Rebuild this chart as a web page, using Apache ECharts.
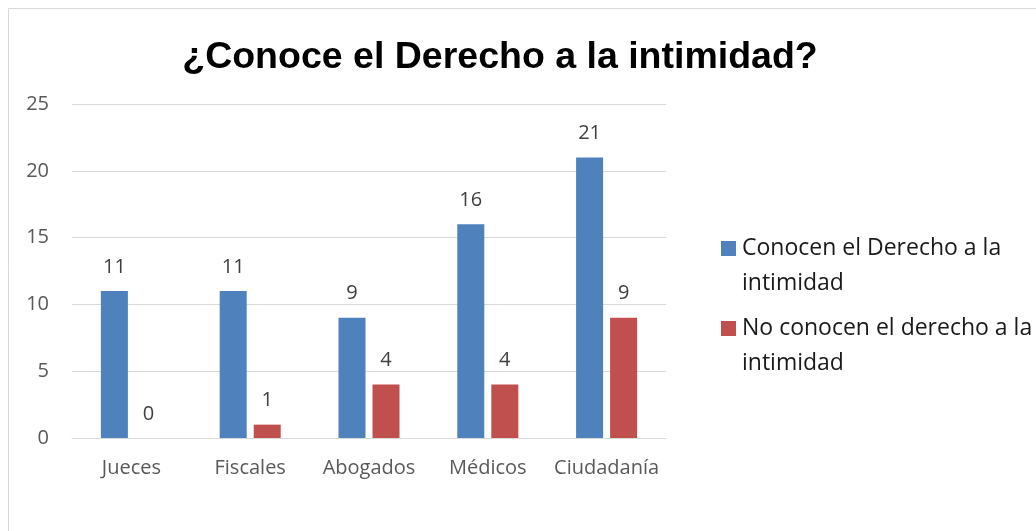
<!DOCTYPE html>
<html>
<head>
<meta charset="utf-8">
<script src="https://cdn.jsdelivr.net/npm/echarts@6/dist/echarts.min.js"></script>
<style>
html,body{margin:0;padding:0;background:#fff;}
#c{width:1036px;height:531px;}
</style>
</head>
<body>
<div id="c"></div>
<script>
const categories = ['Jueces', 'Fiscales', 'Abogados', 'Médicos', 'Ciudadanía'];
const seriesNames = ['Conocen el Derecho a la intimidad', 'No conocen el derecho a la intimidad'];
const conocen = [11, 11, 9, 16, 21];
const noConocen = [0, 1, 4, 4, 9];
const yTicks = [0, 5, 10, 15, 20, 25];

const legendWrap = {
  'Conocen el Derecho a la intimidad': '\nConocen el Derecho a la\nintimidad',
  'No conocen el derecho a la intimidad': '\nNo conocen el derecho a la\nintimidad'
};

const chart = echarts.init(document.getElementById('c'), null, {renderer: 'canvas'});
const font = '"Open Sans", "Noto Sans", sans-serif';
const labelStyle = {
  show: true, position: 'top', distance: 14,
  color: '#404040', fontSize: 20, fontFamily: font
};
chart.setOption({
  animation: false,
  graphic: [{
    type: 'rect', silent: true,
    shape: {x: 8.5, y: 8.5, width: 1050, height: 560},
    style: {fill: 'none', stroke: '#d9d9d9', lineWidth: 1}
  }],
  title: {
    text: '¿Conoce el Derecho a la intimidad?',
    left: 495, top: 34, textAlign: 'center',
    textStyle: {fontFamily: '"Liberation Sans", Arial, sans-serif', fontWeight: 'bold', fontSize: 37.5, color: '#000'}
  },
  legend: {
    orient: 'vertical',
    left: 721, top: 196, padding: 0,
    itemWidth: 15, itemHeight: 15, itemGap: -25,
    icon: 'rect',
    formatter: n => legendWrap[n],
    textStyle: {fontFamily: font, fontSize: 23, color: '#1a1a1a', lineHeight: 35, padding: [0,0,0,1]},
    data: seriesNames
  },
  grid: {left: 72, right: 370, top: 104, bottom: 93, containLabel: false},
  xAxis: {
    type: 'category', data: categories,
    axisLine: {lineStyle: {color: '#d9d9d9', width: 1}},
    axisTick: {show: false},
    axisLabel: {color: '#595959', fontSize: 20, fontFamily: font, margin: 20, interval: 0}
  },
  yAxis: {
    type: 'value', min: 0, max: 25, interval: 5,
    axisLine: {show: false}, axisTick: {show: false},
    splitLine: {lineStyle: {color: '#d9d9d9', width: 1}},
    axisLabel: {color: '#595959', fontSize: 20, fontFamily: font, margin: 23,
      formatter: v => yTicks.includes(v) ? String(v) : ''}
  },
  series: [
    {name: seriesNames[0], type: 'bar', data: conocen, barWidth: 27, barGap: '26%',
     itemStyle: {color: '#4f81bd'}, label: labelStyle},
    {name: seriesNames[1], type: 'bar', data: noConocen, barWidth: 27,
     itemStyle: {color: '#c0504d'}, label: labelStyle}
  ]
});
</script>
</body>
</html>
